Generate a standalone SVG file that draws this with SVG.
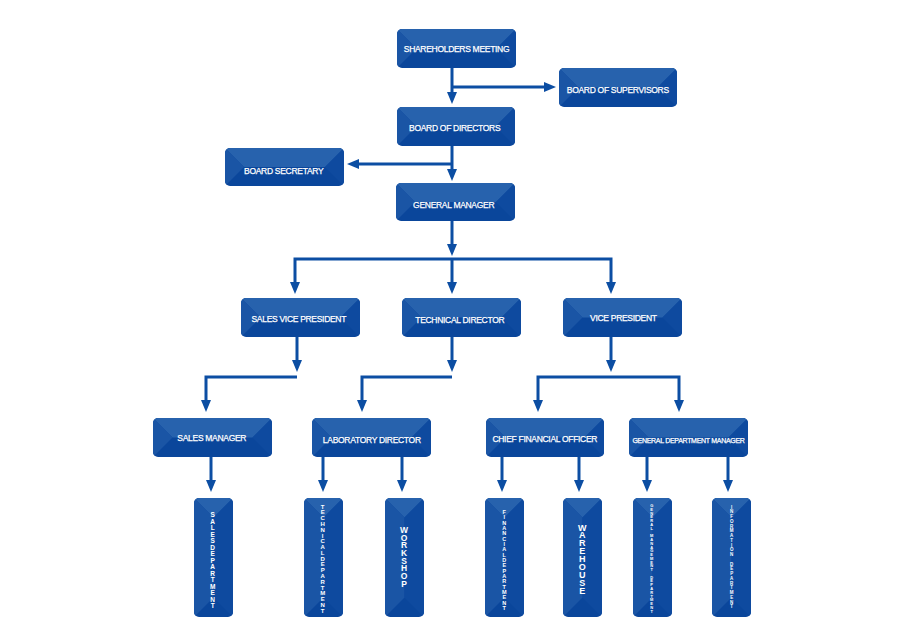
<svg xmlns="http://www.w3.org/2000/svg" width="900" height="640" viewBox="0 0 900 640">
<style>
.base{fill:#0a469b}
.bt{fill:#2762ad}
.bl{fill:#1a55a5}
.br{fill:#0e4a9f}
.t{font-family:"Liberation Sans",Arial,sans-serif;font-size:8.5px;letter-spacing:-0.3px;fill:#ffffff;stroke:#ffffff;stroke-width:0.25px;text-anchor:middle}
.v{font-family:"Liberation Sans",Arial,sans-serif;font-weight:bold;fill:#ffffff;text-anchor:middle}
.c{fill:none;stroke:#0c4ea3;stroke-width:3;stroke-linejoin:miter}
</style>
<defs>
<marker id="ah" markerUnits="userSpaceOnUse" markerWidth="12" markerHeight="10" refX="6" refY="5" orient="auto-start-reverse">
<path d="M0,0 L12,5 L0,10 z" fill="#0c4ea3"/>
</marker>
<clipPath id="k1"><rect x="397" y="29" width="119" height="39" rx="5"/></clipPath>
<clipPath id="k2"><rect x="559" y="68" width="118" height="39" rx="5"/></clipPath>
<clipPath id="k3"><rect x="397" y="107" width="118" height="39" rx="5"/></clipPath>
<clipPath id="k4"><rect x="225" y="148" width="119" height="38" rx="5"/></clipPath>
<clipPath id="k5"><rect x="396" y="183" width="119" height="38" rx="5"/></clipPath>
<clipPath id="k6"><rect x="241" y="298" width="119" height="39" rx="5"/></clipPath>
<clipPath id="k7"><rect x="402" y="298" width="119" height="39" rx="5"/></clipPath>
<clipPath id="k8"><rect x="563" y="298" width="119" height="39" rx="5"/></clipPath>
<clipPath id="k9"><rect x="153" y="418" width="119" height="39" rx="5"/></clipPath>
<clipPath id="k10"><rect x="312" y="418" width="119" height="39" rx="5"/></clipPath>
<clipPath id="k11"><rect x="486" y="418" width="118" height="39" rx="5"/></clipPath>
<clipPath id="k12"><rect x="629" y="418" width="119" height="39" rx="5"/></clipPath>
<clipPath id="k13"><rect x="194" y="498" width="39" height="119" rx="5"/></clipPath>
<clipPath id="k14"><rect x="304" y="498" width="39" height="119" rx="5"/></clipPath>
<clipPath id="k15"><rect x="385" y="498" width="39" height="119" rx="5"/></clipPath>
<clipPath id="k16"><rect x="485" y="498" width="39" height="119" rx="5"/></clipPath>
<clipPath id="k17"><rect x="563" y="498" width="39" height="119" rx="5"/></clipPath>
<clipPath id="k18"><rect x="633" y="498" width="39" height="119" rx="5"/></clipPath>
<clipPath id="k19"><rect x="712" y="498" width="39" height="119" rx="5"/></clipPath>
</defs>
<rect width="900" height="640" fill="#ffffff"/>

<g id="connectors">
<path class="c" d="M452,67.5 V98" marker-end="url(#ah)"/>
<path class="c" d="M452,87 H550" marker-end="url(#ah)"/>
<path class="c" d="M452,146 V175" marker-end="url(#ah)"/>
<path class="c" d="M452,164 H353" marker-end="url(#ah)"/>
<path class="c" d="M452,221 V250" marker-end="url(#ah)"/>
<path class="c" d="M295,288 V259 H611 V288" marker-start="url(#ah)" marker-end="url(#ah)"/>
<path class="c" d="M452,259 V288" marker-end="url(#ah)"/>
<path class="c" d="M297,337 V366" marker-end="url(#ah)"/>
<path class="c" d="M452,337 V366" marker-end="url(#ah)"/>
<path class="c" d="M611,337 V366" marker-end="url(#ah)"/>
<path class="c" d="M297,377 H206 V406" marker-end="url(#ah)"/>
<path class="c" d="M452,377 H362 V406" marker-end="url(#ah)"/>
<path class="c" d="M538,406 V377 H679 V406" marker-start="url(#ah)" marker-end="url(#ah)"/>
<path class="c" d="M211,457 V486" marker-end="url(#ah)"/>
<path class="c" d="M323,457 V486" marker-end="url(#ah)"/>
<path class="c" d="M402,457 V486" marker-end="url(#ah)"/>
<path class="c" d="M502,457 V486" marker-end="url(#ah)"/>
<path class="c" d="M579,457 V486" marker-end="url(#ah)"/>
<path class="c" d="M647,457 V486" marker-end="url(#ah)"/>
<path class="c" d="M728,457 V486" marker-end="url(#ah)"/>
</g>

<g id="shareholders-meeting">
<rect class="base" x="397" y="29" width="119" height="39" rx="5"/>
<g clip-path="url(#k1)">
<polygon class="bt" points="397,29 516,29 496.5,48.5 416.5,48.5"/>
<polygon class="bl" points="397,29 416.5,48.5 397,68"/>
<polygon class="br" points="516,29 496.5,48.5 516,68"/>
</g>
<text class="t" x="456.5" y="52.3">SHAREHOLDERS MEETING</text>
</g>

<g id="board-of-supervisors">
<rect class="base" x="559" y="68" width="118" height="39" rx="5"/>
<g clip-path="url(#k2)">
<polygon class="bt" points="559,68 677,68 657.5,87.5 578.5,87.5"/>
<polygon class="bl" points="559,68 578.5,87.5 559,107"/>
<polygon class="br" points="677,68 657.5,87.5 677,107"/>
</g>
<text class="t" x="617.8" y="93">BOARD OF SUPERVISORS</text>
</g>

<g id="board-of-directors">
<rect class="base" x="397" y="107" width="118" height="39" rx="5"/>
<g clip-path="url(#k3)">
<polygon class="bt" points="397,107 515,107 495.5,126.5 416.5,126.5"/>
<polygon class="bl" points="397,107 416.5,126.5 397,146"/>
<polygon class="br" points="515,107 495.5,126.5 515,146"/>
</g>
<text class="t" x="454.7" y="130.7">BOARD OF DIRECTORS</text>
</g>

<g id="board-secretary">
<rect class="base" x="225" y="148" width="119" height="38" rx="5"/>
<g clip-path="url(#k4)">
<polygon class="bt" points="225,148 344,148 325,167 244,167"/>
<polygon class="bl" points="225,148 244,167 225,186"/>
<polygon class="br" points="344,148 325,167 344,186"/>
</g>
<text class="t" x="283.7" y="173.7">BOARD SECRETARY</text>
</g>

<g id="general-manager">
<rect class="base" x="396" y="183" width="119" height="38" rx="5"/>
<g clip-path="url(#k5)">
<polygon class="bt" points="396,183 515,183 496,202 415,202"/>
<polygon class="bl" points="396,183 415,202 396,221"/>
<polygon class="br" points="515,183 496,202 515,221"/>
</g>
<text class="t" x="453.7" y="208">GENERAL MANAGER</text>
</g>

<g id="sales-vice-president">
<rect class="base" x="241" y="298" width="119" height="39" rx="5"/>
<g clip-path="url(#k6)">
<polygon class="bt" points="241,298 360,298 340.5,317.5 260.5,317.5"/>
<polygon class="bl" points="241,298 260.5,317.5 241,337"/>
<polygon class="br" points="360,298 340.5,317.5 360,337"/>
</g>
<text class="t" x="298.8" y="322">SALES VICE PRESIDENT</text>
</g>

<g id="technical-director">
<rect class="base" x="402" y="298" width="119" height="39" rx="5"/>
<g clip-path="url(#k7)">
<polygon class="bt" points="402,298 521,298 501.5,317.5 421.5,317.5"/>
<polygon class="bl" points="402,298 421.5,317.5 402,337"/>
<polygon class="br" points="521,298 501.5,317.5 521,337"/>
</g>
<text class="t" x="459.8" y="323">TECHNICAL DIRECTOR</text>
</g>

<g id="vice-president">
<rect class="base" x="563" y="298" width="119" height="39" rx="5"/>
<g clip-path="url(#k8)">
<polygon class="bt" points="563,298 682,298 662.5,317.5 582.5,317.5"/>
<polygon class="bl" points="563,298 582.5,317.5 563,337"/>
<polygon class="br" points="682,298 662.5,317.5 682,337"/>
</g>
<text class="t" x="623.4" y="321">VICE PRESIDENT</text>
</g>

<g id="sales-manager">
<rect class="base" x="153" y="418" width="119" height="39" rx="5"/>
<g clip-path="url(#k9)">
<polygon class="bt" points="153,418 272,418 252.5,437.5 172.5,437.5"/>
<polygon class="bl" points="153,418 172.5,437.5 153,457"/>
<polygon class="br" points="272,418 252.5,437.5 272,457"/>
</g>
<text class="t" x="211.8" y="441">SALES MANAGER</text>
</g>

<g id="laboratory-director">
<rect class="base" x="312" y="418" width="119" height="39" rx="5"/>
<g clip-path="url(#k10)">
<polygon class="bt" points="312,418 431,418 411.5,437.5 331.5,437.5"/>
<polygon class="bl" points="312,418 331.5,437.5 312,457"/>
<polygon class="br" points="431,418 411.5,437.5 431,457"/>
</g>
<text class="t" x="371.8" y="443">LABORATORY DIRECTOR</text>
</g>

<g id="chief-financial-officer">
<rect class="base" x="486" y="418" width="118" height="39" rx="5"/>
<g clip-path="url(#k11)">
<polygon class="bt" points="486,418 604,418 584.5,437.5 505.5,437.5"/>
<polygon class="bl" points="486,418 505.5,437.5 486,457"/>
<polygon class="br" points="604,418 584.5,437.5 604,457"/>
</g>
<text class="t" x="544.8" y="442">CHIEF FINANCIAL OFFICER</text>
</g>

<g id="general-department-manager">
<rect class="base" x="629" y="418" width="119" height="39" rx="5"/>
<g clip-path="url(#k12)">
<polygon class="bt" points="629,418 748,418 728.5,437.5 648.5,437.5"/>
<polygon class="bl" points="629,418 648.5,437.5 629,457"/>
<polygon class="br" points="748,418 728.5,437.5 748,457"/>
</g>
<text class="t" x="688.5" y="442.5" style="font-size:7px">GENERAL DEPARTMENT MANAGER</text>
</g>

<g id="sales-department">
<rect class="base" x="194" y="498" width="39" height="119" rx="5"/>
<g clip-path="url(#k13)">
<polygon class="bt" points="194,498 233,498 213.5,517.5"/>
<polygon class="bl" points="194,498 213.5,517.5 213.5,597.5 194,617"/>
<polygon class="br" points="233,498 213.5,517.5 213.5,597.5 233,617"/>
</g>
<text class="v" style="font-size:6.5px" x="212.7 212.7 212.7 212.7 212.7 212.7 212.7 212.7 212.7 212.7 212.7 212.7 212.7 212.7 212.7 212.7" y="517.4 523.9 530.3 536.8 543.3 546.5 549.8 556.2 562.7 569.2 575.6 582.1 588.6 595.0 601.5 608.0">SALES DEPARTMENT</text>
</g>

<g id="technical-department">
<rect class="base" x="304" y="498" width="39" height="119" rx="5"/>
<g clip-path="url(#k14)">
<polygon class="bt" points="304,498 343,498 323.5,517.5"/>
<polygon class="bl" points="304,498 323.5,517.5 323.5,597.5 304,617"/>
<polygon class="br" points="343,498 323.5,517.5 323.5,597.5 343,617"/>
</g>
<text class="v" style="font-size:6px" x="322.7 322.7 322.7 322.7 322.7 322.7 322.7 322.7 322.7 322.7 322.7 322.7 322.7 322.7 322.7 322.7 322.7 322.7 322.7 322.7" y="508.5 514.3 520.1 525.9 531.7 537.5 543.2 549.0 554.8 557.7 560.6 566.4 572.2 578.0 583.8 589.6 595.4 601.1 606.9 612.7">TECHNICAL DEPARTMENT</text>
</g>

<g id="workshop">
<rect class="base" x="385" y="498" width="39" height="119" rx="5"/>
<g clip-path="url(#k15)">
<polygon class="bt" points="385,498 424,498 404.5,517.5"/>
<polygon class="bl" points="385,498 404.5,517.5 404.5,597.5 385,617"/>
<polygon class="br" points="424,498 404.5,517.5 404.5,597.5 424,617"/>
</g>
<text class="v" style="font-size:8.5px" x="404 404 404 404 404 404 404 404" y="533 540.7 548.3 556 563.7 571.4 579 586.7">WORKSHOP</text>
</g>

<g id="financial-department">
<rect class="base" x="485" y="498" width="39" height="119" rx="5"/>
<g clip-path="url(#k16)">
<polygon class="bt" points="485,498 524,498 504.5,517.5"/>
<polygon class="bl" points="485,498 504.5,517.5 504.5,597.5 485,617"/>
<polygon class="br" points="524,498 504.5,517.5 504.5,597.5 524,617"/>
</g>
<text class="v" style="font-size:5.5px" x="504.3 504.3 504.3 504.3 504.3 504.3 504.3 504.3 504.3 504.3 504.3 504.3 504.3 504.3 504.3 504.3 504.3 504.3 504.3 504.3" y="514 519.3 524.7 530 535.3 540.7 546 551.3 556.6 559.3 562 567.3 572.6 578 583.3 588.6 594 599.3 604.6 610">FINANCIAL DEPARTMENT</text>
</g>

<g id="warehouse">
<rect class="base" x="563" y="498" width="39" height="119" rx="5"/>
<g clip-path="url(#k17)">
<polygon class="bt" points="563,498 602,498 582.5,517.5"/>
<polygon class="bl" points="563,498 582.5,517.5 582.5,597.5 563,617"/>
<polygon class="br" points="602,498 582.5,517.5 582.5,597.5 602,617"/>
</g>
<text class="v" style="font-size:9px" x="582.3 582.3 582.3 582.3 582.3 582.3 582.3 582.3 582.3" y="530.5 538.4 546.4 554.3 562.3 570.2 578.1 586.1 594">WAREHOUSE</text>
</g>

<g id="general-management-department">
<rect class="base" x="633" y="498" width="39" height="119" rx="5"/>
<g clip-path="url(#k18)">
<polygon class="bt" points="633,498 672,498 652.5,517.5"/>
<polygon class="bl" points="633,498 652.5,517.5 652.5,597.5 633,617"/>
<polygon class="br" points="672,498 652.5,517.5 652.5,597.5 672,617"/>
</g>
<text class="v" style="font-size:4px" x="651.7 651.7 651.7 651.7 651.7 651.7 651.7 651.7 651.7 651.7 651.7 651.7 651.7 651.7 651.7 651.7 651.7 651.7 651.7 651.7 651.7 651.7 651.7 651.7 651.7 651.7 651.7 651.7 651.7" y="507.0 510.8 514.5 518.3 522.1 525.9 529.6 533.4 537.2 540.9 544.7 548.5 552.2 556.0 559.8 563.6 567.3 571.1 574.9 578.6 582.4 586.2 589.9 593.7 597.5 601.3 605.0 608.8 612.6">GENERAL MANAGEMENT DEPARTMENT</text>
</g>

<g id="information-department">
<rect class="base" x="712" y="498" width="39" height="119" rx="5"/>
<g clip-path="url(#k19)">
<polygon class="bt" points="712,498 751,498 731.5,517.5"/>
<polygon class="bl" points="712,498 731.5,517.5 731.5,597.5 712,617"/>
<polygon class="br" points="751,498 731.5,517.5 731.5,597.5 751,617"/>
</g>
<text class="v" style="font-size:4.5px" x="731.7 731.7 731.7 731.7 731.7 731.7 731.7 731.7 731.7 731.7 731.7 731.7 731.7 731.7 731.7 731.7 731.7 731.7 731.7 731.7 731.7 731.7" y="508.5 513.3 518.0 522.8 527.5 532.3 537.0 541.8 546.5 551.3 556.0 560.8 565.5 570.3 575.0 579.8 584.5 589.3 594.0 598.8 603.5 608.3">INFORMATION DEPARTMENT</text>
</g>
</svg>
